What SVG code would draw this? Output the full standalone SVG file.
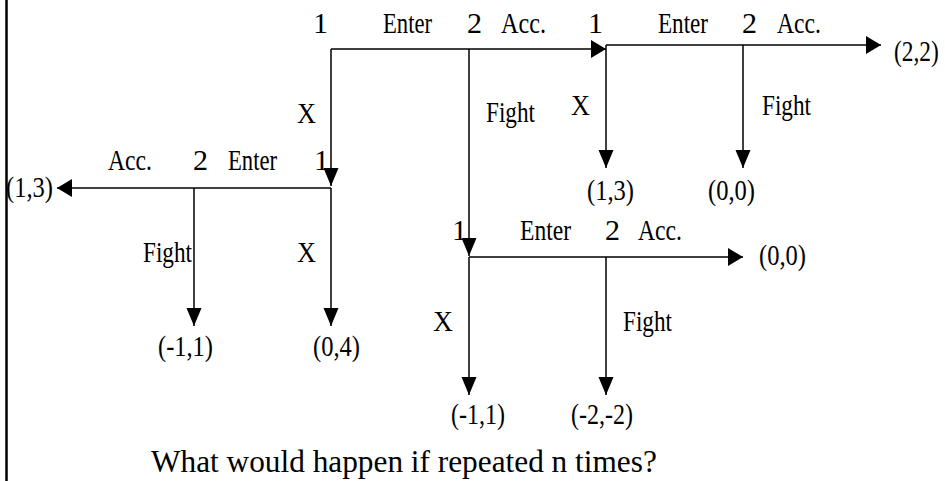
<svg xmlns="http://www.w3.org/2000/svg" width="945" height="481" viewBox="0 0 945 481">
<style>
  .t { font-family: "Liberation Serif", "Times New Roman", serif; font-size: 30px; fill: #000; }
  .q { font-family: "Liberation Serif", "Times New Roman", serif; font-size: 31.3px; fill: #000; }
  .ln { stroke: #000; stroke-width: 1.5; fill: none; }
  .h { marker-end: url(#ah); }
  .v { marker-end: url(#av); }
</style>
<defs>
  <marker id="ah" markerUnits="userSpaceOnUse" markerWidth="16" markerHeight="19" refX="15" refY="9" orient="auto" overflow="visible">
    <path d="M0,0 L15,9 L0,18 z" fill="#000"/>
  </marker>
  <marker id="av" markerUnits="userSpaceOnUse" markerWidth="19" markerHeight="16" refX="18" refY="7.5" orient="auto" overflow="visible">
    <path d="M0,0 L18,7.5 L0,15 z" fill="#000"/>
  </marker>
</defs>
<rect width="945" height="481" fill="#fff"/>
<line x1="6.5" y1="0" x2="6.5" y2="481" stroke="#000" stroke-width="2.5"/>

<g id="connectors">
  <line class="ln h" x1="331" y1="49" x2="606" y2="49"/>
  <line class="ln v" x1="331" y1="49" x2="331" y2="186"/>
  <line class="ln v" x1="469" y1="49" x2="469" y2="256"/>

  <line class="ln h" x1="606" y1="45" x2="881" y2="45"/>
  <line class="ln v" x1="606" y1="45" x2="606" y2="168"/>
  <line class="ln v" x1="743" y1="45" x2="743" y2="168"/>

  <line class="ln h" x1="331" y1="188" x2="57" y2="188"/>
  <line class="ln v" x1="331" y1="188" x2="331" y2="326"/>
  <line class="ln v" x1="194" y1="188" x2="194" y2="326"/>

  <line class="ln h" x1="469" y1="257" x2="743" y2="257"/>
  <line class="ln v" x1="469" y1="257" x2="469" y2="395"/>
  <line class="ln v" x1="606" y1="257" x2="606" y2="395"/>
</g>

<g id="node-a1">
  <text class="t" x="313" y="33">1</text>
  <text class="t" x="297" y="123" textLength="19" lengthAdjust="spacingAndGlyphs">X</text>
  <text class="t" x="383" y="33" textLength="49" lengthAdjust="spacingAndGlyphs">Enter</text>
</g>
<g id="node-a2">
  <text class="t" x="467" y="33">2</text>
  <text class="t" x="501" y="33" textLength="45" lengthAdjust="spacingAndGlyphs">Acc.</text>
  <text class="t" x="486" y="122" textLength="49" lengthAdjust="spacingAndGlyphs">Fight</text>
</g>
<g id="node-b1">
  <text class="t" x="588" y="33">1</text>
  <text class="t" x="658" y="33" textLength="50" lengthAdjust="spacingAndGlyphs">Enter</text>
  <text class="t" x="571" y="115" textLength="19" lengthAdjust="spacingAndGlyphs">X</text>
</g>
<g id="node-b2">
  <text class="t" x="742" y="33">2</text>
  <text class="t" x="777" y="33" textLength="44" lengthAdjust="spacingAndGlyphs">Acc.</text>
  <text class="t" x="762" y="115" textLength="49" lengthAdjust="spacingAndGlyphs">Fight</text>
</g>
<g id="pay-22"><text class="t" transform="translate(894 61) scale(0.78 1)" x="0" y="0">(2,2)</text></g>
<g id="pay-13a"><text class="t" x="587" y="200" textLength="47" lengthAdjust="spacingAndGlyphs">(1,3)</text></g>
<g id="pay-00a"><text class="t" x="708" y="200" textLength="47" lengthAdjust="spacingAndGlyphs">(0,0)</text></g>

<g id="node-c1">
  <text class="t" x="314" y="170">1</text>
  <text class="t" x="228" y="170" textLength="49" lengthAdjust="spacingAndGlyphs">Enter</text>
  <text class="t" x="297" y="262" textLength="19" lengthAdjust="spacingAndGlyphs">X</text>
</g>
<g id="node-c2">
  <text class="t" x="193" y="170">2</text>
  <text class="t" x="108" y="170" textLength="44" lengthAdjust="spacingAndGlyphs">Acc.</text>
  <text class="t" x="143" y="262" textLength="49" lengthAdjust="spacingAndGlyphs">Fight</text>
</g>
<g id="pay-13b"><text class="t" x="6" y="197" textLength="47" lengthAdjust="spacingAndGlyphs">(1,3)</text></g>
<g id="pay-m11a"><text class="t" x="158" y="356" textLength="55" lengthAdjust="spacingAndGlyphs">(-1,1)</text></g>
<g id="pay-04"><text class="t" x="313" y="356" textLength="47" lengthAdjust="spacingAndGlyphs">(0,4)</text></g>

<g id="node-d1">
  <text class="t" x="452" y="240">1</text>
  <text class="t" x="520" y="240" textLength="51" lengthAdjust="spacingAndGlyphs">Enter</text>
  <text class="t" x="433" y="331" textLength="20" lengthAdjust="spacingAndGlyphs">X</text>
</g>
<g id="node-d2">
  <text class="t" x="605" y="240">2</text>
  <text class="t" x="638" y="240" textLength="44" lengthAdjust="spacingAndGlyphs">Acc.</text>
  <text class="t" x="623" y="331" textLength="49" lengthAdjust="spacingAndGlyphs">Fight</text>
</g>
<g id="pay-00b"><text class="t" x="759" y="265" textLength="47" lengthAdjust="spacingAndGlyphs">(0,0)</text></g>
<g id="pay-m11b"><text class="t" x="451" y="424" textLength="54" lengthAdjust="spacingAndGlyphs">(-1,1)</text></g>
<g id="pay-m2m2"><text class="t" x="571" y="424" textLength="62" lengthAdjust="spacingAndGlyphs">(-2,-2)</text></g>

<g id="question"><text class="q" x="151" y="472">What would happen if repeated n times?</text></g>
</svg>
